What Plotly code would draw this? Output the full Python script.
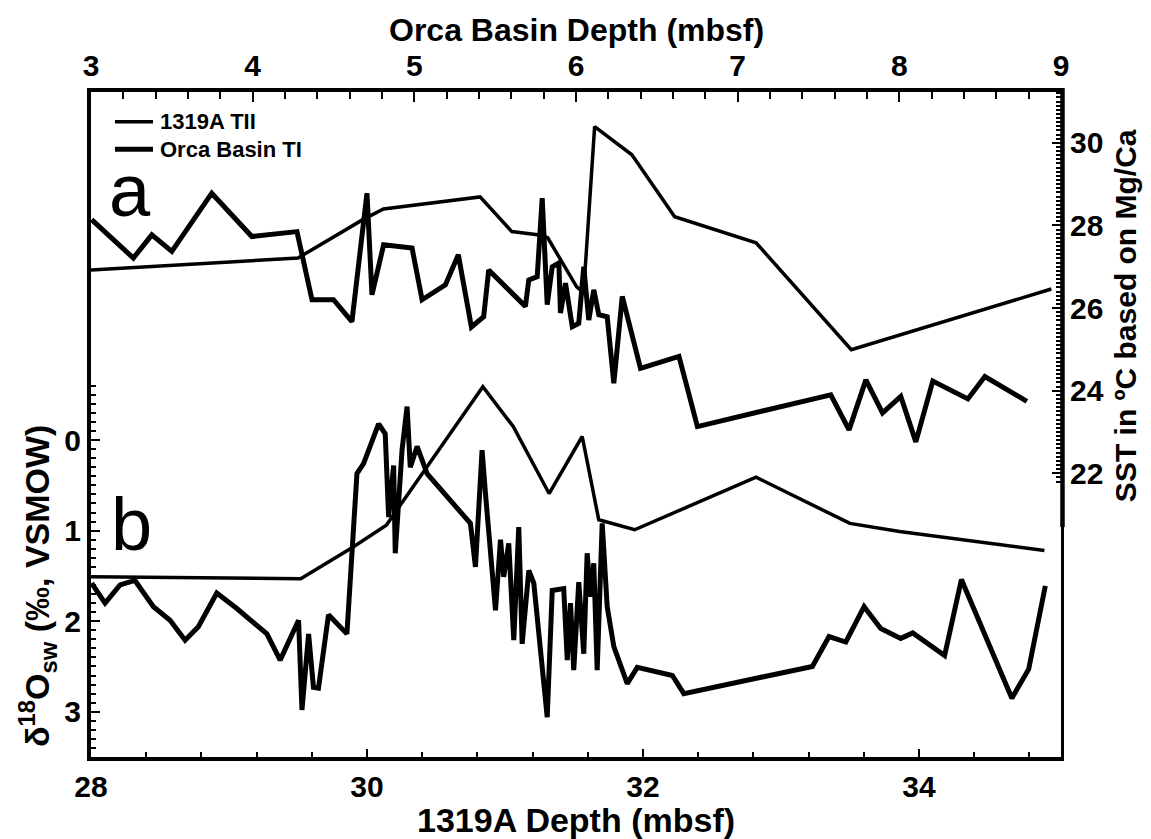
import numpy as np
import plotly.graph_objects as go

# ---- Site U1319A, Termination II (bottom axis: 1319A depth, mbsf) ----
u1319_sst_depth = [28.00, 29.50, 29.97, 30.12, 30.82, 31.05, 31.25, 31.31, 31.52, 31.57,
                   31.65, 31.92, 32.23, 32.82, 33.51, 34.96]
u1319_sst = [26.92, 27.21, 28.14, 28.40, 28.69, 27.85, 27.77, 27.70, 26.51, 26.37,
             30.39, 29.71, 28.21, 27.58, 24.99, 26.46]

u1319_d18o_depth = [28.00, 28.67, 29.52, 29.90, 30.14, 30.84, 31.06, 31.32, 31.56, 31.68,
                    31.94, 32.82, 33.50, 33.86, 34.91]
u1319_d18o = [1.51, 1.52, 1.53, 1.18, 0.94, -0.59, -0.15, 0.59, -0.04, 0.88,
              0.99, 0.41, 0.92, 1.01, 1.22]

# ---- Orca Basin, Termination I (top axis: Orca Basin depth, mbsf) ----
orca_sst_depth = [3.004, 3.262, 3.376, 3.500, 3.747, 3.995, 4.274, 4.367, 4.500, 4.614,
                  4.707, 4.738, 4.810, 4.986, 5.048, 5.192, 5.272, 5.353, 5.429, 5.460,
                  5.687, 5.708, 5.760, 5.791, 5.822, 5.853, 5.894, 5.904, 5.935, 5.977,
                  6.017, 6.048, 6.079, 6.110, 6.141, 6.193, 6.234, 6.286, 6.399, 6.637,
                  6.751, 7.576, 7.689, 7.793, 7.896, 8.009, 8.102, 8.207, 8.424, 8.529,
                  8.789]
orca_sst = [28.14, 27.21, 27.77, 27.37, 28.78, 27.73, 27.85, 26.20, 26.20, 25.67,
            28.78, 26.32, 27.53, 27.45, 26.20, 26.56, 27.29, 25.54, 25.79, 26.92,
            26.04, 26.68, 26.76, 28.66, 26.08, 27.00, 27.09, 25.88, 26.60, 25.55,
            25.63, 27.00, 25.71, 26.44, 25.84, 25.79, 24.18, 26.28, 24.54, 24.83,
            23.13, 23.90, 23.05, 24.26, 23.46, 23.86, 22.76, 24.23, 23.80, 24.34,
            23.74]

orca_d18o_depth = [3.004, 3.087, 3.180, 3.272, 3.386, 3.489, 3.582, 3.664, 3.778, 3.902,
                   4.088, 4.170, 4.284, 4.305, 4.346, 4.376, 4.407, 4.469, 4.583, 4.645,
                   4.686, 4.779, 4.820, 4.841, 4.872, 4.882, 4.924, 4.955, 4.975, 5.017,
                   5.079, 5.347, 5.378, 5.419, 5.440, 5.502, 5.533, 5.553, 5.584, 5.615,
                   5.646, 5.667, 5.708, 5.739, 5.822, 5.853, 5.924, 5.946, 5.966, 5.986,
                   6.017, 6.048, 6.069, 6.090, 6.110, 6.131, 6.162, 6.193, 6.234, 6.317,
                   6.379, 6.596, 6.667, 7.462, 7.565, 7.669, 7.782, 7.885, 8.009, 8.083,
                   8.280, 8.384, 8.696, 8.800, 8.903]
orca_d18o = [1.58, 1.80, 1.60, 1.55, 1.84, 1.99, 2.21, 2.06, 1.69, 1.86,
             2.14, 2.43, 1.99, 2.98, 2.14, 2.73, 2.74, 1.93, 2.14, 0.37,
             0.26, -0.18, -0.07, 0.85, 0.28, 1.25, 0.11, -0.37, 0.30, 0.07,
             0.37, 0.92, 1.40, 0.11, 0.59, 1.88, 1.10, 1.51, 1.14, 2.21,
             0.96, 2.25, 1.44, 1.58, 3.06, 1.66, 1.64, 2.43, 1.80, 2.54,
             1.57, 2.36, 1.25, 1.73, 1.36, 2.54, 0.92, 1.84, 2.28, 2.69,
             2.51, 2.60, 2.80, 2.50, 2.17, 2.23, 1.84, 2.08, 2.19, 2.13,
             2.38, 1.54, 2.85, 2.53, 1.61]

# ---- axis tick labels ----
bottom_ticks = [28, 30, 32, 34]
top_ticks = [3, 4, 5, 6, 7, 8, 9]
d18o_ticks = [0, 1, 2, 3]
sst_ticks = [22, 24, 26, 28, 30]

FONT = "Liberation Sans, Arial, sans-serif"
INK = "black"
THIN, THICK = 3.5, 5

fig = go.Figure()
fig.add_trace(go.Scatter(x=u1319_sst_depth, y=u1319_sst, xaxis="x", yaxis="y2",
                         mode="lines", name="1319A TII",
                         line=dict(color=INK, width=THIN)))
fig.add_trace(go.Scatter(x=orca_sst_depth, y=orca_sst, xaxis="x2", yaxis="y2",
                         mode="lines", name="Orca Basin TI",
                         line=dict(color=INK, width=THICK)))
fig.add_trace(go.Scatter(x=u1319_d18o_depth, y=u1319_d18o, xaxis="x", yaxis="y",
                         mode="lines", name="1319A TII",
                         line=dict(color=INK, width=THIN)))
fig.add_trace(go.Scatter(x=orca_d18o_depth, y=orca_d18o, xaxis="x2", yaxis="y",
                         mode="lines", name="Orca Basin TI",
                         line=dict(color=INK, width=THICK)))

tickfont = dict(family=FONT, size=30, color=INK, weight="bold")
d18o_minor = [round(v, 1) for v in np.arange(-0.6, 3.51, 0.1)]
sst_minor = [round(v, 1) for v in np.arange(21.8, 31.25, 0.1)]

fig.update_layout(
    width=1151, height=839,
    margin=dict(l=91, r=90, t=92, b=82),
    paper_bgcolor="white", plot_bgcolor="white",
    showlegend=False,
    xaxis=dict(range=[28, 35.03], tickmode="array", tickvals=bottom_ticks,
               ticks="inside", ticklen=8, tickwidth=2, tickcolor=INK,
               tickfont=tickfont, showgrid=False, zeroline=False,
               showline=True, linewidth=4, linecolor=INK,
               minor=dict(tick0=28, dtick=0.4, ticks="inside", ticklen=5,
                          tickwidth=2, tickcolor=INK, showgrid=False)),
    xaxis2=dict(range=[3, 9], overlaying="x", side="top", anchor="y",
                tickmode="array", tickvals=top_ticks,
                ticks="inside", ticklen=10, tickwidth=2, tickcolor=INK,
                tickfont=tickfont, showgrid=False, zeroline=False,
                showline=True, linewidth=4, linecolor=INK,
                minor=dict(tick0=3, dtick=0.2, ticks="inside", ticklen=7,
                           tickwidth=2, tickcolor=INK, showgrid=False)),
    yaxis=dict(range=[3.5, -3.845], tickmode="array", tickvals=d18o_ticks,
               ticks="inside", ticklen=9, tickwidth=2, tickcolor=INK,
               tickfont=tickfont, showgrid=False, zeroline=False,
               showline=True, linewidth=4, linecolor=INK,
               minor=dict(tickmode="array", tickvals=d18o_minor, ticks="inside",
                          ticklen=5, tickwidth=2, tickcolor=INK, showgrid=False)),
    yaxis2=dict(range=[15.13, 31.23], overlaying="y", side="right", anchor="x",
                tickmode="array", tickvals=sst_ticks,
                ticks="inside", ticklen=9, tickwidth=2, tickcolor=INK,
                tickfont=tickfont, showgrid=False, zeroline=False,
                showline=True, linewidth=3, linecolor=INK,
                minor=dict(tickmode="array", tickvals=sst_minor, ticks="inside",
                           ticklen=5, tickwidth=2, tickcolor=INK, showgrid=False)),
)

# Right border: heavier along the SST scale, lighter below it
spine_x = 1 + 1.5 / 970
fig.add_shape(type="line", xref="paper", yref="paper", x0=spine_x, x1=spine_x,
              y0=0.346, y1=1.006, line=dict(color=INK, width=4.5))
fig.add_shape(type="line", xref="paper", yref="paper", x0=spine_x, x1=spine_x,
              y0=-0.004, y1=0.35, line=dict(color=INK, width=3))

# Key in the upper-left corner: sample line + label for each record
key_entries = [("1319A TII", THIN, 0.9553), ("Orca Basin TI", THICK, 0.9138)]
for label, width, ky in key_entries:
    fig.add_shape(type="line", xref="paper", yref="paper",
                  x0=0.0247, x1=0.0639, y0=ky, y1=ky,
                  line=dict(color=INK, width=width))
    fig.add_annotation(text=label, x=0.0691, y=ky, xref="paper", yref="paper",
                       xanchor="left", yanchor="middle", showarrow=False,
                       font=dict(family=FONT, size=22, color=INK, weight="bold"))

fig.add_annotation(text="Orca Basin Depth (mbsf)", x=0.5, y=1.093, xref="paper",
                   yref="paper", xanchor="center", yanchor="middle", showarrow=False,
                   font=dict(family=FONT, size=32, color=INK, weight="bold"))
fig.add_annotation(text="1319A Depth (mbsf)", x=0.5, y=-0.094, xref="paper",
                   yref="paper", xanchor="center", yanchor="middle", showarrow=False,
                   font=dict(family=FONT, size=34, color=INK, weight="bold"))
fig.add_annotation(text="δ<sup>18</sup>O<sub>sw</sub> (‰, VSMOW)", x=-0.055, y=0.258,
                   xref="paper", yref="paper", xanchor="center", yanchor="middle",
                   textangle=-90, showarrow=False,
                   font=dict(family=FONT, size=34, color=INK, weight="bold"))
fig.add_annotation(text="SST in ºC based on Mg/Ca", x=1.066, y=0.663,
                   xref="paper", yref="paper", xanchor="center", yanchor="middle",
                   textangle=-90, showarrow=False,
                   font=dict(family=FONT, size=30, color=INK, weight="bold"))

# Panel letters
for letter, lx, ly in [("a", 0.040, 0.852), ("b", 0.042, 0.349)]:
    fig.add_annotation(text=letter, x=lx, y=ly, xref="paper", yref="paper",
                       xanchor="center", yanchor="middle", showarrow=False,
                       font=dict(family=FONT, size=74, color=INK))

fig.write_html("out.html")
